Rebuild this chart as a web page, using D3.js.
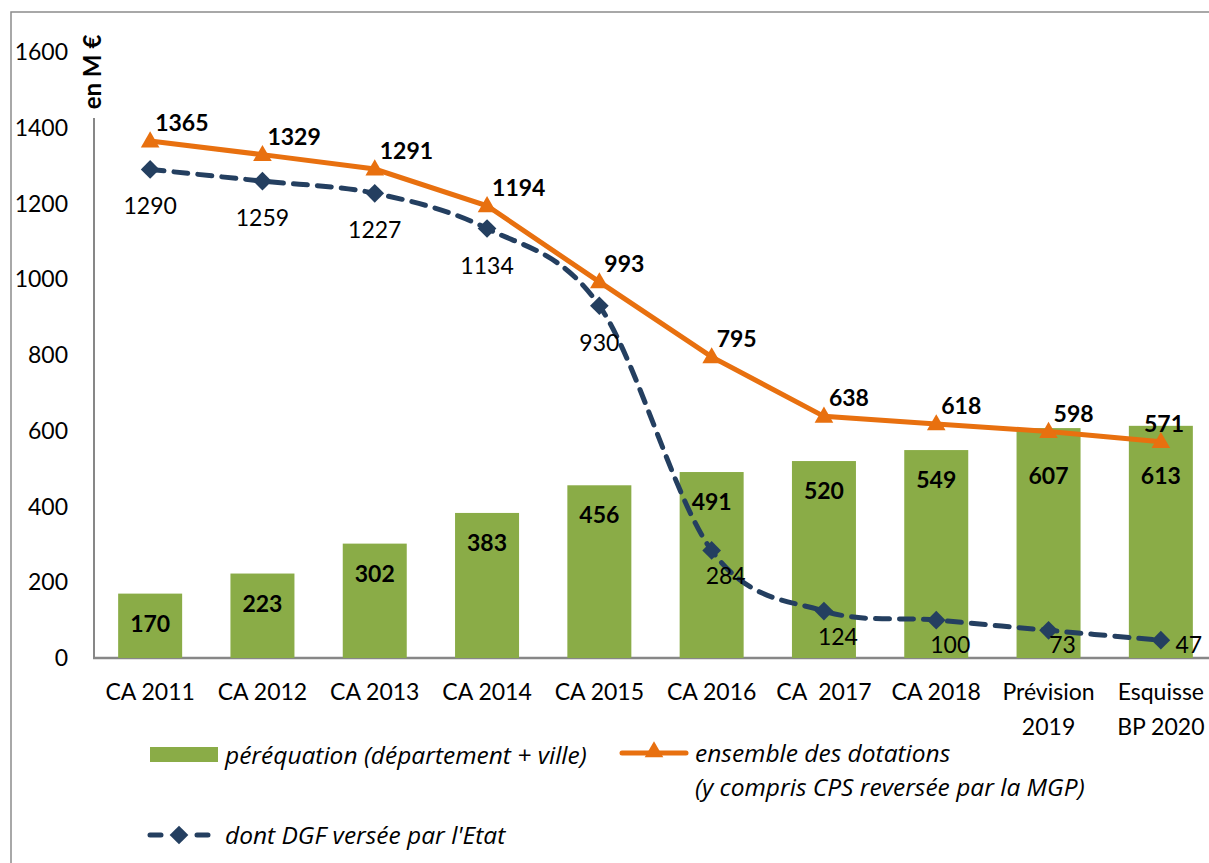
<!DOCTYPE html>
<html>
<head>
<meta charset="utf-8">
<script src="https://cdn.jsdelivr.net/npm/d3@7"></script>
<style>
  body { margin: 0; background: #fff; }
  text { font-family: Lato, "Open Sans", sans-serif; }
</style>
</head>
<body>
<script>
const categories = ["CA 2011", "CA 2012", "CA 2013", "CA 2014", "CA 2015",
  "CA 2016", "CA  2017", "CA 2018", "Prévision\n2019", "Esquisse\nBP 2020"];
const perequation = [170, 223, 302, 383, 456, 491, 520, 549, 607, 613];
const dotations = [1365, 1329, 1291, 1194, 993, 795, 638, 618, 598, 571];
const dgf = [1290, 1259, 1227, 1134, 930, 284, 124, 100, 73, 47];
const yTicks = [0, 200, 400, 600, 800, 1000, 1200, 1400, 1600];

const width = 1209, height = 863;
const green = "#8aac47", orange = "#e8700f", navy = "#243f60", grey = "#878787";
const fs = 23;

const svg = d3.select("body").append("svg")
  .attr("width", width).attr("height", height);

// cadre
svg.append("rect")
  .attr("x", 11).attr("y", 12)
  .attr("width", width + 20).attr("height", height + 20)
  .attr("fill", "none").attr("stroke", "#8c8c8c").attr("stroke-width", 1.5);

const x = d3.scaleBand().domain(categories).range([94, 1217]);
const y = d3.scaleLinear().domain([0, 1600]).range([658, 52]);
const cx = d => x(d) + x.bandwidth() / 2;
const barW = 64;

// axes
svg.append("line")
  .attr("x1", 94).attr("x2", 94).attr("y1", y(1600)).attr("y2", y(0))
  .attr("stroke", grey).attr("stroke-width", 2);
svg.append("line")
  .attr("x1", 93).attr("x2", width).attr("y1", y(0)).attr("y2", y(0))
  .attr("stroke", grey).attr("stroke-width", 2.5);

svg.append("g").selectAll("text").data(yTicks).enter().append("text")
  .attr("x", 68).attr("y", d => y(d))
  .attr("dy", "0.35em").attr("text-anchor", "end")
  .attr("font-size", fs).attr("fill", "#000")
  .text(d => d);

// titre d'axe (fond blanc qui masque l'axe)
svg.append("rect").attr("x", 80).attr("y", 28).attr("width", 28).attr("height", 90)
  .attr("fill", "#fff");
svg.append("text")
  .attr("transform", "translate(101,72) rotate(-90)")
  .attr("text-anchor", "middle")
  .attr("font-size", 24).attr("font-weight", "bold")
  .text("en M €");

// catégories
const catG = svg.append("g").selectAll("text").data(categories).enter().append("text")
  .attr("x", d => cx(d)).attr("y", 700)
  .attr("text-anchor", "middle").attr("font-size", fs);
catG.selectAll("tspan").data(d => d.split("\n")).enter().append("tspan")
  .attr("x", function() { return d3.select(this.parentNode).attr("x"); })
  .attr("dy", (d, i) => i ? 35 : 0)
  .attr("xml:space", "preserve")
  .text(d => d);

// barres
svg.append("g").selectAll("rect").data(perequation).enter().append("rect")
  .attr("x", (d, i) => cx(categories[i]) - barW / 2)
  .attr("y", d => y(d))
  .attr("width", barW)
  .attr("height", d => y(0) - y(d))
  .attr("fill", green);

// étiquettes des barres : dans le haut de la barre, mais sous les étiquettes de la courbe
svg.append("g").selectAll("text").data(perequation).enter().append("text")
  .attr("x", (d, i) => cx(categories[i]))
  .attr("y", d => Math.max(y(d) + 30, y(480)))
  .attr("dy", "0.35em").attr("text-anchor", "middle")
  .attr("font-size", fs).attr("font-weight", "bold")
  .text(d => d);

// DGF (courbe lissée, pointillés)
const dgfLine = d3.line()
  .x((d, i) => cx(categories[i])).y(d => y(d))
  .curve(d3.curveCatmullRom.alpha(0));
svg.append("path").datum(dgf)
  .attr("d", dgfLine)
  .attr("fill", "none").attr("stroke", navy).attr("stroke-width", 5)
  .attr("stroke-dasharray", "14,10").attr("stroke-linecap", "round");

const diamond = d3.symbol().type(d3.symbolSquare).size(175);
svg.append("g").selectAll("path").data(dgf).enter().append("path")
  .attr("d", diamond)
  .attr("transform", (d, i) => `translate(${cx(categories[i])},${y(d)}) rotate(45)`)
  .attr("fill", navy);

// ensemble des dotations
const dotLine = d3.line().x((d, i) => cx(categories[i])).y(d => y(d));
svg.append("path").datum(dotations)
  .attr("d", dotLine)
  .attr("fill", "none").attr("stroke", orange).attr("stroke-width", 5);

const tri = d3.symbol().type(d3.symbolTriangle).size(150);
svg.append("g").selectAll("path").data(dotations).enter().append("path")
  .attr("d", tri)
  .attr("transform", (d, i) => `translate(${cx(categories[i])},${y(d) + 1})`)
  .attr("fill", orange);

// étiquettes DGF : en dessous, puis à droite près de l'axe
svg.append("g").selectAll("text").data(dgf).enter().append("text")
  .attr("x", (d, i) => {
    const px = cx(categories[i]);
    if (i === dgf.length - 1) return px + 28;
    return d < 300 ? px + 14 : px;
  })
  .attr("y", d => d < 300 ? Math.min(y(d) + 26, y(0) - 13) : y(d) + 37)
  .attr("dy", "0.35em").attr("text-anchor", "middle")
  .attr("font-size", fs).attr("fill", "#000")
  .text(d => d);

// étiquettes dotations : au-dessus à droite, sans dépasser la zone de tracé
svg.append("g").selectAll("text").data(dotations).enter().append("text")
  .attr("x", (d, i) => cx(categories[i]) + 5)
  .attr("y", d => y(d) - 18)
  .attr("dy", "0.35em")
  .attr("font-size", fs).attr("font-weight", "bold")
  .text(d => d)
  .each(function() {
    const t = d3.select(this);
    const w = this.getComputedTextLength();
    const xx = +t.attr("x");
    if (xx + w > 1184) t.attr("x", 1184 - w);
  });

// légende
const leg = svg.append("g").attr("font-size", 24.5).attr("font-style", "italic");
const legText = (sel) => sel.style("font-family", "'Open Sans', sans-serif");
leg.append("rect").attr("x", 150).attr("y", 747).attr("width", 68).attr("height", 15)
  .attr("fill", green);
leg.append("text").attr("x", 225).attr("y", 755).attr("dy", "0.35em")
  .call(legText).text("péréquation (département + ville)");

leg.append("line").attr("x1", 622).attr("x2", 686).attr("y1", 753).attr("y2", 753)
  .attr("stroke", orange).attr("stroke-width", 5).attr("stroke-linecap", "round");
leg.append("path").attr("d", tri).attr("transform", "translate(654,752)").attr("fill", orange);
leg.append("text").attr("x", 695).attr("y", 753).attr("dy", "0.35em")
  .call(legText).text("ensemble des dotations");
leg.append("text").attr("x", 695).attr("y", 787).attr("dy", "0.35em")
  .call(legText).text("(y compris CPS reversée par la MGP)");

leg.append("line").attr("x1", 150).attr("x2", 208).attr("y1", 835).attr("y2", 835)
  .attr("stroke", navy).attr("stroke-width", 5).attr("stroke-linecap", "round")
  .attr("stroke-dasharray", "11,36");
leg.append("path").attr("d", diamond)
  .attr("transform", "translate(179,835) rotate(45)").attr("fill", navy);
leg.append("text").attr("x", 225).attr("y", 835).attr("dy", "0.35em")
  .call(legText).text("dont DGF versée par l'Etat");
</script>
</body>
</html>
